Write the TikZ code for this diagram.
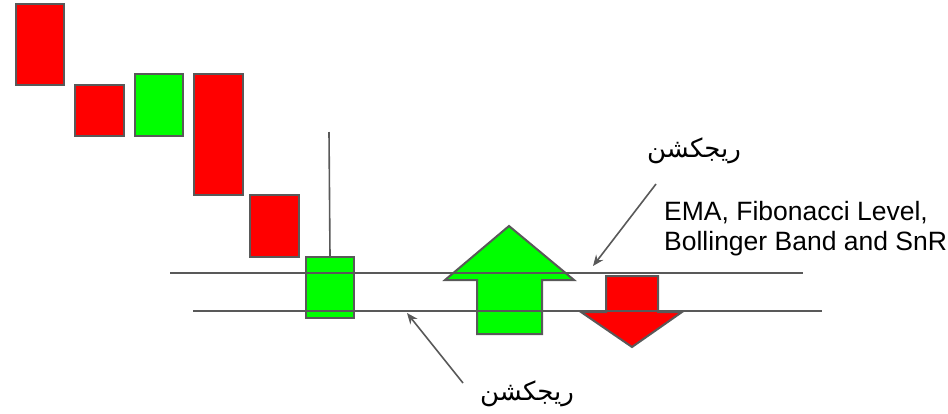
\documentclass[tikz,border=0pt]{standalone}
\usepackage{fontspec}
\setmainfont{Liberation Sans}
\newfontfamily\arabicfont[Script=Arabic]{DejaVu Sans}
\TeXXeTstate=1
\usetikzlibrary{arrows.meta}
\definecolor{edgegray}{HTML}{595959}
\definecolor{candlered}{HTML}{FF0000}
\definecolor{candlegreen}{HTML}{00FF00}
\tikzset{
  candle/.style={draw=edgegray, line width=2pt, inner sep=0pt, anchor=north west},
  bear/.style={candle, fill=candlered},
  bull/.style={candle, fill=candlegreen},
  level/.style={draw=edgegray, line width=1.6pt},
  pointer/.style={draw=edgegray, line width=1.6pt, -{Stealth[length=11pt,width=9pt]}},
  bigarrow/.style={draw=edgegray, line width=2pt, line join=miter},
  fatext/.style={font=\arabicfont\fontsize{26}{30}\selectfont, inner sep=0pt},
  latext/.style={font=\fontsize{26.5}{30}\selectfont, inner sep=0pt, align=left, anchor=west}
}
\begin{document}
\begin{tikzpicture}[x=1pt,y=-1pt]
\useasboundingbox[fill=white] (0,0) rectangle (948,413);
% candles
\node[bear, minimum width=48pt, minimum height=81pt] (c1) at (15,3) {};
\node[bear, minimum width=49pt, minimum height=51pt] (c2) at (74,84) {};
\node[bull, minimum width=48pt, minimum height=62pt] (c3) at (134,73) {};
\node[bear, minimum width=49pt, minimum height=121pt] (c4) at (193,73) {};
\node[bear, minimum width=49pt, minimum height=62pt] (c5) at (249,194) {};
\node[bull, minimum width=48pt, minimum height=61pt] (c6) at (305,256) {};
\coordinate (wtop) at (329,132);
\draw[level] (wtop) -- (c6.north);
% big arrows
\draw[bigarrow, fill=candlegreen] (509,226) -- (574,280) -- (542,280) -- (542,334) -- (477,334) -- (477,280) -- (445,280) -- cycle;
\draw[bigarrow, fill=candlered] (632,347) -- (682,312) -- (658,312) -- (658,276) -- (606,276) -- (606,312) -- (581,312) -- cycle;
% levels
\coordinate (u1) at (170,273);
\coordinate (u2) at (803,273);
\coordinate (l1) at (193,311);
\coordinate (l2) at (822,311);
\draw[level] (u1) -- (u2);
\draw[level] (l1) -- (l2);
% labels
\node[fatext] (rtop) at (694,151) {\beginR ریجکشن\endR};
\node[fatext] (rbot) at (527,394) {\beginR ریجکشن\endR};
\node[latext] (ind) at (664,229) {EMA, Fibonacci Level,\\Bollinger Band and SnR};
% pointers
\coordinate (ptop) at (656,184);
\coordinate (ptopend) at (593,266);
\coordinate (pbot) at (463,383);
\coordinate (pbotend) at (407,313);
\draw[pointer] (ptop) -- (ptopend);
\draw[pointer] (pbot) -- (pbotend);
\end{tikzpicture}
\end{document}
